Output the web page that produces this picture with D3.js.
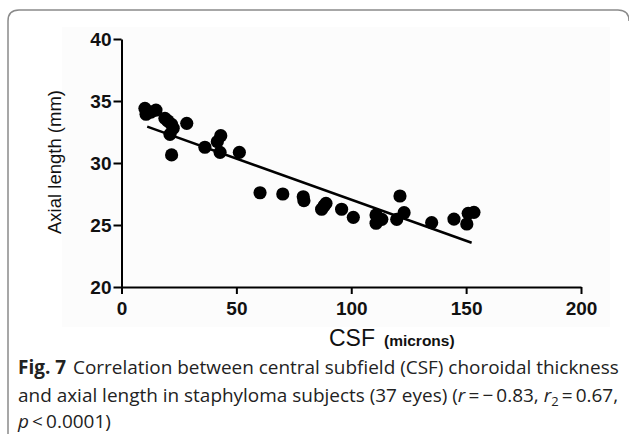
<!DOCTYPE html>
<html><head><meta charset="utf-8">
<script src="https://cdn.jsdelivr.net/npm/d3@7"></script>
<style>body{margin:0;background:#fff} svg{display:block}</style>
</head><body>
<svg id="c" width="629" height="434"></svg>
<script>
// CSF choroidal thickness (microns) and axial length (mm), 37 eyes
const csf = [10.2, 10.7, 12.8, 15.0, 18.9, 20.2, 21.8, 22.5, 21.1, 28.4, 21.8, 36.3,
  41.7, 43.2, 42.9, 51.3, 60.3, 70.2, 79.1, 79.4, 89.0, 87.1, 88.1, 95.8, 100.9,
  110.8, 113.3, 111.6, 110.8, 121.2, 123.0, 119.8, 135.0, 144.7, 150.9, 153.4, 150.3];
const axialLength = [34.41, 33.93, 34.1, 34.27, 33.60, 33.39, 33.12, 32.80, 32.31, 33.20, 30.65, 31.27,
  31.72, 32.20, 30.86, 30.86, 27.60, 27.50, 27.28, 26.96, 26.75, 26.27, 26.53, 26.27, 25.62,
  25.81, 25.46, 25.48, 25.14, 27.34, 25.99, 25.46, 25.19, 25.48, 25.94, 26.02, 25.08];
// regression line end points
const fitCsf = [11.2, 152.4];
const fitAxial = [32.93, 23.57];
const xTicks = [0, 50, 100, 150, 200];
const yTicks = [20, 25, 30, 35, 40];

const svg = d3.select('#c');
const x = d3.scaleLinear().domain([0, 200]).range([121.5, 581]);
const y = d3.scaleLinear().domain([20, 40]).range([287, 39]);

// outer frame
svg.append('path')
  .attr('d', 'M8,434 V21 Q8,10 19,10 H618 Q629,10 629,21')
  .attr('fill', 'none').attr('stroke', '#8a8a8a').attr('stroke-width', 1.5);

// faint image background
svg.append('rect').attr('x', 62).attr('y', 27).attr('width', 548).attr('height', 300)
  .attr('fill', '#fcfcfc');

const tickFont = 'Liberation Sans, Arial, Helvetica, sans-serif';

const gx = svg.append('g').attr('transform', `translate(0,${y(20)})`)
  .call(d3.axisBottom(x).tickValues(xTicks).tickSize(7).tickSizeOuter(0).tickPadding(8));
const gy = svg.append('g').attr('transform', `translate(${x(0)},0)`)
  .call(d3.axisLeft(y).tickValues(yTicks).tickSize(8).tickSizeOuter(0).tickPadding(2));
[gx, gy].forEach(g => {
  g.selectAll('path,line').attr('stroke', '#000').attr('stroke-width', 2);
  g.selectAll('text').attr('fill', '#111').style('font-family', tickFont)
    .style('font-weight', 'bold').style('font-size', '19px');
});

// regression line
svg.append('line')
  .attr('x1', x(fitCsf[0])).attr('y1', y(fitAxial[0]))
  .attr('x2', x(fitCsf[1])).attr('y2', y(fitAxial[1]))
  .attr('stroke', '#000').attr('stroke-width', 2.5);

// points
svg.append('g').selectAll('circle').data(csf).join('circle')
  .attr('cx', d => x(d)).attr('cy', (d, i) => y(axialLength[i]))
  .attr('r', 6.6).attr('fill', '#000');

// axis titles
svg.append('text').attr('transform', 'translate(61,162) rotate(-90)')
  .attr('text-anchor', 'middle').style('font-family', tickFont).style('font-size', '18.5px')
  .attr('fill', '#111').text('Axial length (mm)');

const xt = svg.append('text').attr('x', 329).attr('y', 346)
  .style('font-family', tickFont).attr('fill', '#111');
xt.append('tspan').style('font-size', '23px').text('CSF');
xt.append('tspan').attr('dx', 9).style('font-size', '15.5px').style('font-weight', 'bold').text('(microns)');

// caption
const capFont = 'Open Sans, Noto Sans, sans-serif';
const cap = svg.append('g').style('font-family', capFont).style('font-size', '19px').attr('fill', '#222');
const l1 = cap.append('text').attr('x', 0).attr('y', 374);
l1.append('tspan').style('font-weight', 'bold').text('Fig. 7');
l1.append('tspan').attr('dx', 7).text('Correlation between central subfield (CSF) choroidal thickness');
const l2 = cap.append('text').attr('x', 0).attr('y', 402);
l2.append('tspan').text('and axial length in staphyloma subjects (37 eyes) (');
l2.append('tspan').style('font-style', 'italic').text('r');
l2.append('tspan').text('\u2009=\u2009\u2212\u20090.83, ');
l2.append('tspan').style('font-style', 'italic').text('r');
l2.append('tspan').attr('dy', 4).style('font-size', '13px').text('2');
l2.append('tspan').attr('dy', -4).text('\u2009=\u20090.67,');
const l3 = cap.append('text').attr('x', 0).attr('y', 428);
l3.append('tspan').style('font-style', 'italic').text('p');
l3.append('tspan').text('\u2009<\u20090.0001)');
const w1 = l1.node().getComputedTextLength();
const sx = 594 / w1;
cap.attr('transform', `translate(18,0) scale(${sx},1)`);
</script>
</body></html>
